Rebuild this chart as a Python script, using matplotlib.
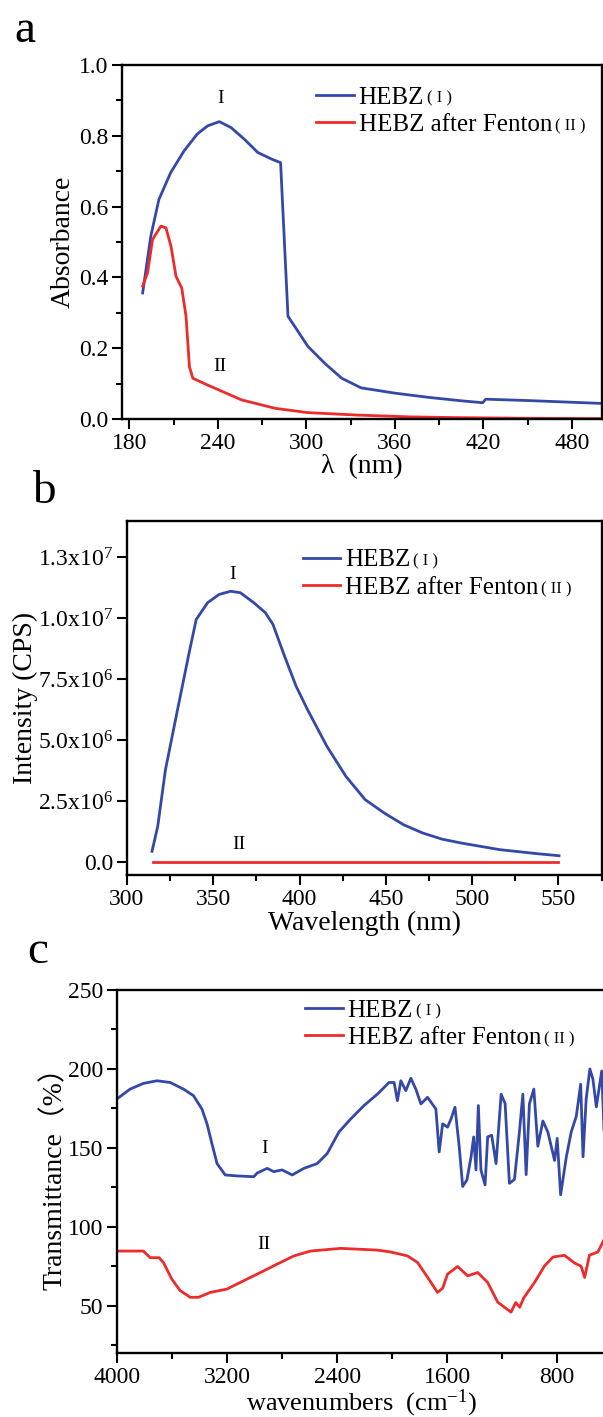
import numpy as np
import matplotlib
matplotlib.use("Agg")
import matplotlib.pyplot as plt
from matplotlib.ticker import MultipleLocator

plt.rcParams['font.family'] = ['Liberation Serif', 'Noto Sans CJK SC', 'DejaVu Sans']
plt.rcParams['mathtext.fontset'] = 'custom'
plt.rcParams['mathtext.rm'] = 'Liberation Serif'
plt.rcParams['mathtext.it'] = 'Liberation Serif:italic'
plt.rcParams['mathtext.bf'] = 'Liberation Serif:bold'

BLUE = '#3448a8'
RED = '#ee2b2b'

# ---- panel a : UV-vis absorbance
uv_wl_1 = [189, 194.5, 200, 208, 217, 226, 233, 241, 249, 258, 267, 276, 282.5,
           287.5, 292, 301, 313, 324, 337, 360, 383, 406, 419.5, 421.5, 451, 500]
uv_abs_1 = [0.356, 0.516, 0.62, 0.696, 0.757, 0.805, 0.828, 0.840, 0.823, 0.790, 0.753,
            0.735, 0.724, 0.290, 0.262, 0.205, 0.155, 0.115, 0.088, 0.073, 0.061,
            0.051, 0.046, 0.056, 0.052, 0.044]
uv_wl_2 = [189, 192.3, 195.7, 201.4, 204.8, 208.2, 211.6, 215.5, 218.4, 220.7, 223,
           233, 256, 279, 301, 335, 370, 400, 450, 500]
uv_abs_2 = [0.375, 0.413, 0.507, 0.545, 0.540, 0.488, 0.403, 0.370, 0.290, 0.148, 0.115,
            0.096, 0.054, 0.030, 0.018, 0.011, 0.006, 0.004, 0.002, 0.001]

# ---- panel b : fluorescence
fl_wl_1 = [314.5, 317.8, 322.3, 328.9, 335.6, 340.1, 346.7, 353.4, 360.1, 365.7, 373.5,
           380.2, 384.6, 391.3, 398, 404.6, 415.8, 426.9, 438, 449.1, 460.3, 471.4,
           482.6, 493.7, 515.9, 538.2, 550.4]
fl_int_1 = [0.44e6, 1.46e6, 3.79e6, 6.11e6, 8.44e6, 9.94e6, 10.63e6, 10.97e6, 11.1e6,
            11.04e6, 10.63e6, 10.22e6, 9.74e6, 8.44e6, 7.21e6, 6.25e6, 4.75e6, 3.51e6,
            2.56e6, 2.01e6, 1.53e6, 1.19e6, 0.94e6, 0.78e6, 0.51e6, 0.34e6, 0.26e6]
fl_wl_2 = [315, 350, 400, 450, 500, 550]
fl_int_2 = [0, 0, 0, 0, 0, 0]
fl_yticks = [0, 2.5e6, 5.0e6, 7.5e6, 1.0e7, 1.25e7]
fl_ylabels = ['0.0', r'2.5x10$^{6}$', r'5.0x10$^{6}$', r'7.5x10$^{6}$',
              r'1.0x10$^{7}$', r'1.3x10$^{7}$']

# ---- panel c : FTIR
ir_wn_1 = [4004, 3907, 3810, 3712, 3615, 3518, 3445, 3384, 3347, 3311, 3274, 3214, 3128,
           3007, 2982, 2909, 2861, 2800, 2727, 2642, 2545, 2472, 2387, 2301, 2204, 2107,
           2022, 1985, 1961, 1936, 1900, 1863, 1827, 1790, 1742, 1681, 1657, 1632, 1596,
           1571, 1542, 1511, 1486, 1455, 1425, 1406, 1389, 1372, 1353, 1323, 1304, 1275,
           1243, 1206, 1177, 1146, 1109, 1073, 1048, 1024, 1000, 968, 939, 902, 866, 817,
           798, 773, 732, 696, 659, 627, 610, 587, 560, 538, 513, 474, 450]
ir_t_1 = [180.9, 187.2, 190.8, 192.5, 191.4, 187.2, 183, 174.6, 165.2, 152.6, 140, 132.8,
          132.2, 131.7, 134, 137, 134.9, 136, 132.8, 137, 140, 146.4, 160, 168.3, 176.8,
          184, 191.4, 191.4, 179.9, 192.5, 186.2, 194.1, 187.2, 177.8, 182, 174.6, 147.4,
          165.2, 163.1, 168.3, 175.7, 150.6, 125.5, 129.7, 144.3, 156.9, 136, 176.8,
          135.9, 126.5, 156.9, 158, 140, 184, 178, 127.5, 130, 160, 184, 133, 178, 187.2,
          151, 167, 160, 142, 156, 120.2, 144, 160, 170, 190.3, 144.3, 181, 200, 193.5,
          176, 198.7, 145]
ir_wn_2 = [4004, 3810, 3761, 3696, 3664, 3603, 3542, 3469, 3409, 3323, 3202, 3080, 2958,
           2837, 2715, 2593, 2374, 2107, 2010, 1887, 1814, 1741, 1669, 1632, 1596, 1523,
           1450, 1377, 1304, 1231, 1134, 1100, 1071, 1041, 963, 890, 829, 745, 672, 624,
           598, 563, 502, 456]
ir_t_2 = [84.6, 84.6, 80.4, 80.4, 77.3, 66.8, 59.5, 55.3, 55.3, 58.4, 60.5, 65.8, 71,
          76.3, 81.5, 84.6, 86.3, 85.2, 84, 81.5, 77.3, 67.9, 58.4, 61, 70, 74.8, 68.9,
          71, 64.7, 52.2, 45.9, 52, 49, 55, 64.7, 75.2, 80.8, 81.9, 77, 75, 67.9, 82,
          84, 92]

names = ['HEBZ', 'HEBZ after Fenton']
tags = ['( I )', '( II )']

W, H = 603, 1417
fig = plt.figure(figsize=(W / 100, H / 100), dpi=100)


def px_axes(l, t, r, b):
    return fig.add_axes([l / W, 1 - b / H, (r - l) / W, (b - t) / H])


def style(ax):
    for s in ax.spines.values():
        s.set_linewidth(1.7)
    ax.tick_params(which='both', direction='out', top=False, right=False,
                   labelsize=17, width=1.5)
    ax.tick_params(which='major', length=7, pad=3)
    ax.tick_params(which='minor', length=4)


def add_legend(ax, anchor):
    leg = ax.legend(loc='upper left', bbox_to_anchor=anchor, frameon=False,
                    fontsize=18, handlelength=1.5, handletextpad=0.2,
                    labelspacing=0.2, borderaxespad=0, borderpad=0)
    return leg


ax1 = px_axes(122, 65, 601.5, 419)
ax1.plot(uv_wl_1, uv_abs_1, color=BLUE, lw=2.0, label=names[0])
ax1.plot(uv_wl_2, uv_abs_2, color=RED, lw=2.0, label=names[1])
ax1.set_xlim(175, 500)
ax1.set_ylim(0, 1.0)
ax1.xaxis.set_major_locator(MultipleLocator(60))
ax1.xaxis.set_minor_locator(MultipleLocator(30))
ax1.yaxis.set_major_locator(MultipleLocator(0.2))
ax1.yaxis.set_minor_locator(MultipleLocator(0.1))
ax1.yaxis.set_major_formatter(lambda v, p: f'{v:.1f}')
style(ax1)
ax1.set_ylabel('Absorbance', fontsize=20, labelpad=2)
ax1.set_xlabel('λ  (nm)', fontsize=20, labelpad=0)
ax1.text(241.6, 0.905, 'I', fontsize=14, ha='center', va='center')
ax1.text(241.6, 0.148, 'II', fontsize=14, ha='center', va='center')
leg1 = add_legend(ax1, (0.405, 0.94))

ax2 = px_axes(127, 520.5, 601.5, 875)
ax2.plot(fl_wl_1, fl_int_1, color=BLUE, lw=2.0, label=names[0])
ax2.plot(fl_wl_2, fl_int_2, color=RED, lw=2.0, label=names[1])
ax2.set_xlim(300, 575)
ax2.set_ylim(-5.3e5, 1.4e7)
ax2.xaxis.set_major_locator(MultipleLocator(50))
ax2.xaxis.set_minor_locator(MultipleLocator(25))
ax2.set_yticks(fl_yticks)
ax2.set_yticklabels(fl_ylabels)
style(ax2)
ax2.set_ylabel('Intensity (CPS)', fontsize=20, labelpad=0)
ax2.set_xlabel('Wavelength (nm)', fontsize=20, labelpad=1)
ax2.text(361, 1.18e7, 'I', fontsize=14, ha='center', va='center')
ax2.text(365, 0.71e6, 'II', fontsize=14, ha='center', va='center')
leg2 = add_legend(ax2, (0.37, 0.92))

ax3 = px_axes(117.3, 990, 605, 1353)
ax3.plot(ir_wn_1, ir_t_1, color=BLUE, lw=2.0, label=names[0])
ax3.plot(ir_wn_2, ir_t_2, color=RED, lw=2.0, label=names[1])
ax3.set_xlim(4000, 450)
ax3.set_ylim(20, 250)
ax3.xaxis.set_major_locator(MultipleLocator(800))
ax3.xaxis.set_minor_locator(MultipleLocator(400))
ax3.yaxis.set_major_locator(MultipleLocator(50))
ax3.yaxis.set_minor_locator(MultipleLocator(25))
style(ax3)
ax3.set_ylabel('Transmittance（%）', fontsize=20, labelpad=0)
ax3.set_xlabel(r'wavenumbers  (cm$^{-1}$)', fontsize=19, labelpad=-0.5)
ax3.text(2925, 149.5, 'I', fontsize=14, ha='center', va='center')
ax3.text(2933, 88.7, 'II', fontsize=14, ha='center', va='center')
leg3 = add_legend(ax3, (0.385, 0.975))

fig.text(25 / W, 1 - 42 / H, 'a', fontsize=34, ha='center', va='baseline')
fig.text(44 / W, 1 - 503 / H, 'b', fontsize=34, ha='center', va='baseline')
fig.text(38 / W, 1 - 963 / H, 'c', fontsize=34, ha='center', va='baseline')

fig.canvas.draw()
for leg, ax in [(leg1, ax1), (leg2, ax2), (leg3, ax3)]:
    for txt, tag in zip(leg.get_texts(), tags):
        ax.annotate(tag, xy=(1, 0.45), xycoords=txt, xytext=(2, 0),
                    textcoords='offset points', va='center', ha='left', fontsize=12)

fig.savefig('out.png', dpi=100)
